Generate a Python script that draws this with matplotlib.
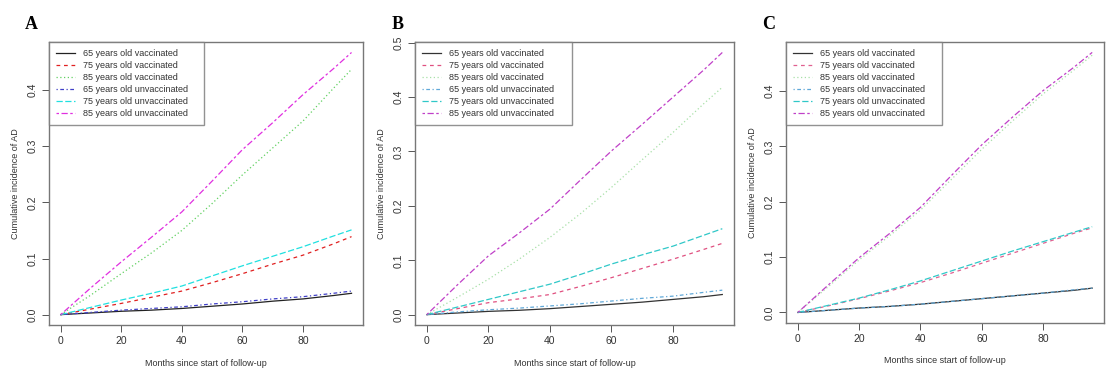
import matplotlib
matplotlib.use("Agg")
import matplotlib.pyplot as plt

plt.rcParams['font.family'] = ['Liberation Sans', 'DejaVu Sans']

months = [0, 10, 20, 30, 40, 50, 60, 70, 80, 90, 96]
labels = ["65 years old vaccinated", "75 years old vaccinated", "85 years old vaccinated",
          "65 years old unvaccinated", "75 years old unvaccinated", "85 years old unvaccinated"]

# Panel A
a_65v = [0, 0.003, 0.006, 0.008, 0.011, 0.015, 0.019, 0.024, 0.028, 0.034, 0.038]
a_75v = [0, 0.010, 0.020, 0.031, 0.042, 0.057, 0.073, 0.090, 0.106, 0.126, 0.139]
a_85v = [0, 0.035, 0.073, 0.110, 0.150, 0.198, 0.249, 0.297, 0.345, 0.403, 0.437]
a_65u = [0, 0.004, 0.008, 0.011, 0.014, 0.019, 0.023, 0.028, 0.032, 0.038, 0.042]
a_75u = [0, 0.013, 0.026, 0.038, 0.051, 0.069, 0.087, 0.104, 0.121, 0.140, 0.151]
a_85u = [0, 0.048, 0.094, 0.138, 0.183, 0.238, 0.294, 0.342, 0.392, 0.438, 0.467]

# Panel B
b_65v = [0, 0.003, 0.006, 0.008, 0.011, 0.015, 0.019, 0.023, 0.028, 0.033, 0.037]
b_75v = [0, 0.011, 0.022, 0.029, 0.037, 0.052, 0.068, 0.085, 0.102, 0.120, 0.131]
b_85v = [0, 0.032, 0.065, 0.102, 0.142, 0.186, 0.234, 0.285, 0.335, 0.388, 0.418]
b_65u = [0, 0.005, 0.009, 0.012, 0.016, 0.020, 0.025, 0.030, 0.034, 0.041, 0.045]
b_75u = [0, 0.014, 0.028, 0.042, 0.056, 0.074, 0.093, 0.110, 0.126, 0.146, 0.158]
b_85u = [0, 0.055, 0.108, 0.150, 0.194, 0.248, 0.301, 0.350, 0.400, 0.450, 0.482]

# Panel C
c_65v = [0, 0.004, 0.008, 0.011, 0.015, 0.020, 0.025, 0.030, 0.035, 0.040, 0.044]
c_75v = [0, 0.012, 0.025, 0.039, 0.054, 0.071, 0.089, 0.107, 0.125, 0.143, 0.153]
c_85v = [0, 0.047, 0.095, 0.139, 0.185, 0.240, 0.295, 0.346, 0.395, 0.438, 0.465]
c_65u = [0, 0.004, 0.008, 0.011, 0.015, 0.020, 0.025, 0.030, 0.035, 0.041, 0.044]
c_75u = [0, 0.013, 0.026, 0.041, 0.057, 0.075, 0.093, 0.111, 0.128, 0.145, 0.155]
c_85u = [0, 0.050, 0.099, 0.143, 0.190, 0.247, 0.303, 0.353, 0.401, 0.443, 0.470]

panels = [
    ("A", [a_65v, a_75v, a_85v, a_65u, a_75u, a_85u], [0, 0.1, 0.2, 0.3, 0.4],
     ["#222222", "#e02020", "#60d060", "#4040c8", "#20e0e0", "#e030e0"]),
    ("B", [b_65v, b_75v, b_85v, b_65u, b_75u, b_85u], [0, 0.1, 0.2, 0.3, 0.4, 0.5],
     ["#333333", "#e05080", "#a8e0a8", "#60a8d8", "#30c8c8", "#c040c8"]),
    ("C", [c_65v, c_75v, c_85v, c_65u, c_75u, c_85u], [0, 0.1, 0.2, 0.3, 0.4],
     ["#333333", "#e06090", "#a8e0a8", "#60a8d8", "#30c8c8", "#c040c8"]),
]

linestyles = ["-", (0, (3, 3)), (0, (1, 2)), (0, (1, 2, 3, 2)), (0, (5, 2)), (0, (2, 2, 5, 2))]

boxes = [(0.044, 0.133, 0.282, 0.755),
         (0.3725, 0.133, 0.2865, 0.755),
         (0.7056, 0.139, 0.2854, 0.749)]
legend_w = [0.494, 0.492, 0.49]
letter_x = [0.028, 0.357, 0.690]

fig = plt.figure(figsize=(11.14, 3.75), dpi=100)
for (letter, series, yticks, colors), box, lx, lw in zip(panels, boxes, letter_x, legend_w):
    ax = fig.add_axes(box)
    for s, c, ls, lab in zip(series, colors, linestyles, labels):
        ax.plot(months, s, color=c, linestyle=ls, linewidth=0.9, label=lab)
    ymax = max(max(s) for s in series)
    pad = ymax * 0.04
    ax.set_ylim(-pad, ymax + pad)
    ax.set_xlim(-96 * 0.04, 96 * 1.04)
    ax.set_xticks([0, 20, 40, 60, 80])
    ax.set_yticks(yticks)
    ax.set_yticklabels([f"{t:.1f}" for t in yticks], rotation=90, va="center")
    ax.tick_params(labelsize=7.5, length=5, width=0.7, color="#555555", labelcolor="#333333", pad=3)
    for sp in ax.spines.values():
        sp.set_color("#777777")
        sp.set_linewidth(1.0)
    ax.set_xlabel("Months since start of follow-up", fontsize=6.5, color="#333333", labelpad=9)
    ax.set_ylabel("Cumulative incidence of AD", fontsize=6.5, color="#333333", labelpad=6)
    leg = ax.legend(loc="upper left", bbox_to_anchor=(0, 0, lw, 1), mode="expand",
                    fontsize=6.5, frameon=True, fancybox=False,
                    borderaxespad=0, handlelength=2.1, handletextpad=0.9,
                    labelspacing=0.33, borderpad=0.8, edgecolor="#777777")
    leg.get_frame().set_linewidth(1.0)
    for t in leg.get_texts():
        t.set_color("#333333")
    fig.text(lx, 0.935, letter, fontsize=13, fontweight="bold",
             family=["Liberation Serif", "DejaVu Serif"], ha="center", va="center")

fig.savefig("out.png", dpi=100)
